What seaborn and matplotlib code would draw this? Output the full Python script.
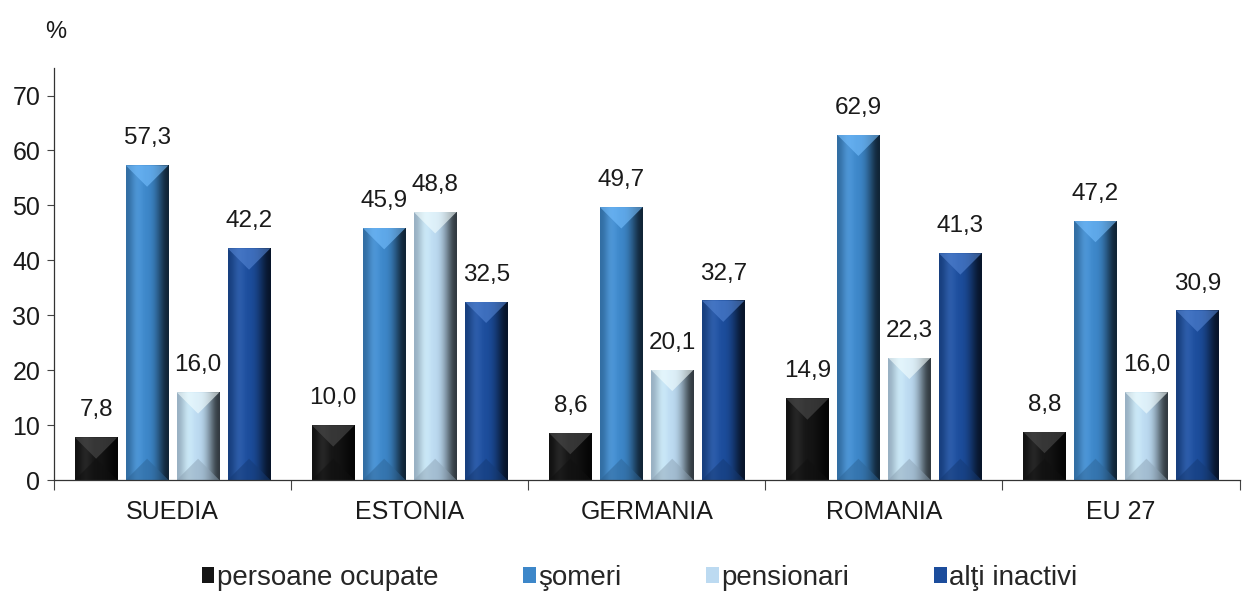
import numpy as np
import pandas as pd
import matplotlib
matplotlib.use("Agg")
import matplotlib.pyplot as plt
import matplotlib.colors as mcolors
from matplotlib.patches import Patch, Polygon
import seaborn as sns

# date
tari = ["SUEDIA", "ESTONIA", "GERMANIA", "ROMANIA", "EU 27"]
grupuri = ["persoane ocupate", "şomeri", "pensionari", "alţi inactivi"]
persoane_ocupate = [7.8, 10.0, 8.6, 14.9, 8.8]
someri = [57.3, 45.9, 49.7, 62.9, 47.2]
pensionari = [16.0, 48.8, 20.1, 22.3, 16.0]
alti_inactivi = [42.2, 32.5, 32.7, 41.3, 30.9]
culori = ["#151515", "#3d87c9", "#bcdaf1", "#1c4d9c"]

valori = [persoane_ocupate, someri, pensionari, alti_inactivi]
df = pd.DataFrame({
    "tara": np.tile(tari, len(grupuri)),
    "grup": np.repeat(grupuri, len(tari)),
    "valoare": np.concatenate(valori),
})

sns.set_style("white")
plt.rcParams["font.family"] = ["Liberation Sans", "DejaVu Sans"]

fig = plt.figure(figsize=(12.42, 5.92), dpi=100)
ax = fig.add_axes([0.0435, 0.189, 0.9545, 0.696])

sns.barplot(data=df, x="tara", y="valoare", hue="grup", order=tari,
            hue_order=grupuri, palette=culori, saturation=1,
            width=0.86, gap=0.16, legend=False, ax=ax)

# relief pe fiecare bara: gradient lateral + tesituri sus/jos
for i, cont in enumerate(ax.containers):
    base = np.array(mcolors.to_rgb(culori[i]))
    light = np.clip(base + 0.10, 0, 1)
    dark = base * 0.25
    grad = np.array([base * 0.8, light, base, base, base * 0.7, dark])[None, :, :]
    top = np.clip(base + 0.22, 0, 1)
    bot = base * 0.75
    for bar, v in zip(cont, valori[i]):
        x0, w, h = bar.get_x(), bar.get_width(), bar.get_height()
        z = bar.get_zorder()
        im = ax.imshow(grad, extent=[x0, x0 + w, 0, h], aspect="auto",
                       interpolation="bicubic", zorder=z + 0.1)
        im.set_clip_path(bar)
        th = min(3.9, h / 2)
        for pts, c, a in [([(x0, h), (x0 + w, h), (x0 + w / 2, h - th)], top, 0.6),
                          ([(x0, 0), (x0 + w, 0), (x0 + w / 2, th)], bot, 0.5)]:
            p = Polygon(pts, closed=True, facecolor=c, edgecolor="none",
                        alpha=a, zorder=z + 0.2)
            ax.add_patch(p)
            p.set_clip_path(bar)
        ax.annotate(f"{v:.1f}".replace(".", ","), (x0 + w / 2, h),
                    xytext=(0, 15), textcoords="offset points",
                    ha="center", va="baseline", fontsize=17.5, color="#1a1a1a")

ax.set_xlim(-0.5, len(tari) - 0.5)
ax.set_ylim(0, 75)
ax.set_yticks(range(0, 71, 10))
ax.set_xlabel("")
ax.set_ylabel("")
ax.tick_params(axis="y", labelsize=18, length=5, width=0.8, color="#444444",
               direction="out", left=True, pad=5, labelcolor="#1a1a1a")
ax.tick_params(axis="x", which="major", labelsize=18, length=0, pad=14,
               labelcolor="#1a1a1a")
ax.set_xticks(np.arange(-0.5, len(tari), 1), minor=True)
ax.tick_params(axis="x", which="minor", length=7, width=0.8, color="#444444",
               direction="out", bottom=True)

for s in ["top", "right"]:
    ax.spines[s].set_visible(False)
for s in ["left", "bottom"]:
    ax.spines[s].set_color("#333333")
    ax.spines[s].set_linewidth(0.9)

fig.text(0.036, 0.935, "%", fontsize=17, color="#1a1a1a")

handles = [Patch(facecolor=c, edgecolor="none", label=g)
           for c, g in zip(culori, grupuri)]
fig.legend(handles=handles, loc="center", bbox_to_anchor=(0.515, 0.024),
           ncol=4, frameon=False, fontsize=20, handlelength=0.45,
           handleheight=0.55, handletextpad=0.1, columnspacing=3.05)

fig.savefig("out.png", dpi=100)
